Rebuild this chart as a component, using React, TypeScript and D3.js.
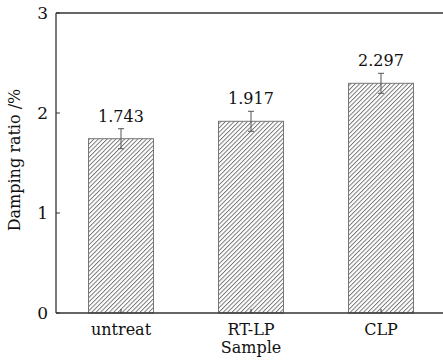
import React from "react";
import * as d3 from "d3";

const categories = ["untreat", "RT-LP", "CLP"];
const values = [1.743, 1.917, 2.297];
const errors = [0.1, 0.1, 0.1];
const yTicks = [0, 1, 2, 3];

const W = 443, H = 361;
const m = { left: 56, top: 13, right: 443, bottom: 313 };
const font = "'DejaVu Serif', serif";

export default function App() {
  const y = d3.scaleLinear().domain([0, 3]).range([m.bottom, m.top]);
  const xp = d3.scalePoint().domain(categories).range([121, 381]);
  const bw = 65;
  return (
    <svg width={W} height={H} style={{ position: "absolute", left: 0, top: 0, background: "#fff" }}>
      <defs>
        <pattern id="hatch" width="3.1" height="3.1" patternUnits="userSpaceOnUse" patternTransform="rotate(45)">
          <line x1="0.5" y1="0" x2="0.5" y2="3.1" stroke="#5a5a5a" strokeWidth="0.8" />
        </pattern>
      </defs>
      {categories.map((c, i) => {
        const cx = xp(c)!;
        const v = values[i];
        const e = errors[i];
        return (
          <g key={c}>
            <rect x={cx - bw / 2} y={y(v)} width={bw} height={y(0) - y(v)} fill="url(#hatch)" stroke="#777" strokeWidth={1} />
            <line x1={cx} x2={cx} y1={y(v + e)} y2={y(v - e)} stroke="#555" strokeWidth={1} />
            <line x1={cx - 3} x2={cx + 3} y1={y(v + e)} y2={y(v + e)} stroke="#555" strokeWidth={1} />
            <line x1={cx - 3} x2={cx + 3} y1={y(v - e)} y2={y(v - e)} stroke="#555" strokeWidth={1} />
            <text x={cx} y={y(v + e) - 7} textAnchor="middle" fontFamily={font} fontSize={16} fill="#111">
              {v.toFixed(3)}
            </text>
            <line x1={cx} x2={cx} y1={y(0)} y2={y(0) - 4} stroke="#333" strokeWidth={1} />
            <text x={cx} y={335} textAnchor="middle" fontFamily={font} fontSize={16} fill="#111">{c}</text>
          </g>
        );
      })}
      <line x1={m.left} x2={m.left} y1={m.top} y2={m.bottom} stroke="#333" strokeWidth={1.3} />
      <line x1={m.left} x2={W} y1={m.bottom} y2={m.bottom} stroke="#333" strokeWidth={1.3} />
      <line x1={m.left} x2={W} y1={m.top} y2={m.top} stroke="#333" strokeWidth={1.3} />
      {yTicks.map((t) => (
        <g key={t}>
          <line x1={m.left} x2={m.left + 4} y1={y(t)} y2={y(t)} stroke="#333" strokeWidth={1} />
          <text x={48} y={y(t)} dy="0.36em" textAnchor="end" fontFamily={font} fontSize={17} fill="#111">{t}</text>
        </g>
      ))}
      <text transform={`translate(20,${160}) rotate(-90)`} textAnchor="middle" fontFamily={font} fontSize={16} fill="#111">
        Damping ratio /%
      </text>
      <text x={251} y={353} textAnchor="middle" fontFamily={font} fontSize={16} fill="#111">Sample</text>
    </svg>
  );
}
